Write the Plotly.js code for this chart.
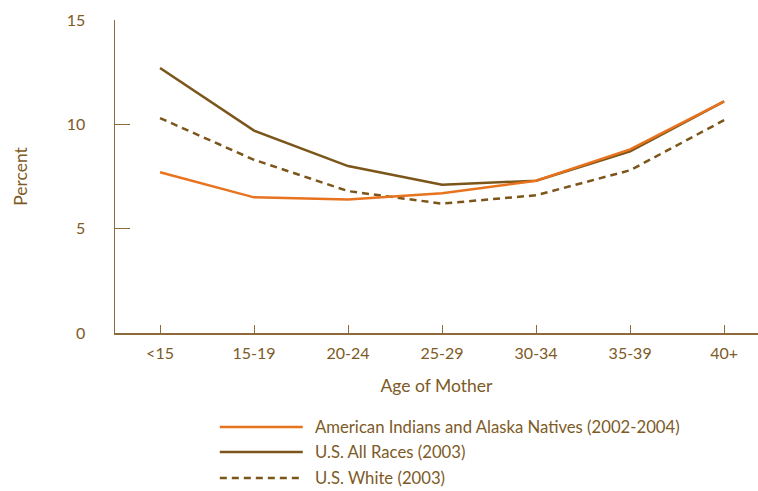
<!DOCTYPE html>
<html><head><meta charset="utf-8">
<script src="https://cdn.plot.ly/plotly-3.0.1.min.js"></script>
<style>html,body{margin:0;padding:0;background:#fff}#chart{width:758px;height:491px}</style>
</head><body><div id="chart"></div>
<script>
var ageGroups = ['<15','15-19','20-24','25-29','30-34','35-39','40+'];
var aian = [7.7, 6.5, 6.4, 6.7, 7.3, 8.8, 11.1];
var allRaces = [12.7, 9.7, 8.0, 7.1, 7.3, 8.7, 11.1];
var white = [10.3, 8.3, 6.8, 6.2, 6.6, 7.8, 10.2];
var seriesNames = ['American Indians and Alaska Natives (2002-2004)','U.S. All Races (2003)','U.S. White (2003)'];
var yTicks = [0, 5, 10, 15];

var textColor = '#7d5a26';
var axisColor = '#8c6b38';
var colors = ['#e8731f', '#7b5519', '#7b5519'];
var dashes = ['solid', 'solid', '7px,5px'];
var FONT = 'Lato, "Open Sans", sans-serif';

var traces = [aian, allRaces, white].map(function(v, i){
  return {x: ageGroups, y: v, type: 'scatter', mode: 'lines', name: seriesNames[i],
    line: {color: colors[i], width: 2.5, dash: dashes[i]}, showlegend: false, hoverinfo: 'skip'};
});
traces = [traces[2], traces[1], traces[0]];

var shapes = [], annotations = [];
var legX0 = 0.163, legX1 = 0.292, legY = [-0.30, -0.38, -0.463];
[0,1,2].forEach(function(i){
  shapes.push({type:'line', xref:'paper', yref:'paper', x0:legX0, x1:legX1, y0:legY[i], y1:legY[i],
    line:{color:colors[i], width:2.5, dash:dashes[i]}});
  annotations.push({xref:'paper', yref:'paper', x:0.308, y:legY[i], xanchor:'left', yanchor:'middle',
    text: seriesNames[i], showarrow:false, font:{family:FONT, size:16.7, color:textColor}});
});

var layout = {
  width: 758, height: 491,
  margin: {l: 115, r: 0, t: 20, b: 158},
  paper_bgcolor: '#fff', plot_bgcolor: '#fff',
  font: {family: FONT, size: 16, color: textColor},
  showlegend: false,
  xaxis: {
    type: 'category', range: [-0.479, 6.36],
    showline: true, linecolor: axisColor, linewidth: 1.5,
    ticks: 'inside', ticklen: 8, tickcolor: axisColor, tickwidth: 1,
    showgrid: false, zeroline: false, ticklabelstandoff: 5,
    tickfont: {family: FONT, size: 16, color: textColor},
    title: {text: 'Age of Mother', font: {family: FONT, size: 17.5, color: textColor}, standoff: 19}
  },
  yaxis: {
    range: [0, 15], tickvals: yTicks, ticktext: yTicks.map(String),
    showline: true, linecolor: axisColor, linewidth: 1.5,
    ticks: 'inside', ticklen: 15, tickcolor: axisColor, tickwidth: 1.5,
    showgrid: false, zeroline: false, ticklabelstandoff: 25,
    tickfont: {family: FONT, size: 16, color: textColor},
    title: {text: 'Percent', font: {family: FONT, size: 17.5, color: textColor}, standoff: 34}
  },
  shapes: shapes, annotations: annotations
};
Plotly.newPlot('chart', traces, layout, {displayModeBar: false, staticPlot: true});
</script></body></html>
